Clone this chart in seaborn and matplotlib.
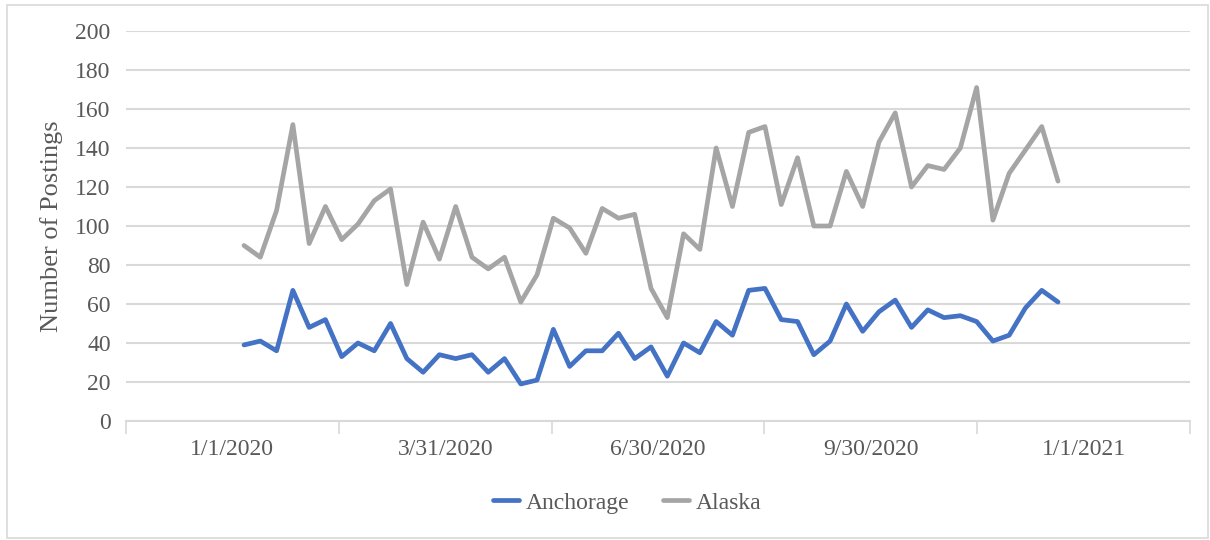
import datetime as dt

import matplotlib
matplotlib.use("Agg")
import matplotlib.dates as mdates
import matplotlib.pyplot as plt
import matplotlib.ticker as mticker
from matplotlib.patches import Rectangle
import numpy as np
import pandas as pd
import seaborn as sns

# Weekly job postings, 2020
weeks = pd.date_range("2020-01-06", periods=51, freq="7D")

anchorage = [39, 41, 36, 67, 48, 52, 33, 40, 36, 50,
             32, 25, 34, 32, 34, 25, 32, 19, 21, 47,
             28, 36, 36, 45, 32, 38, 23, 40, 35, 51,
             44, 67, 68, 52, 51, 34, 41, 60, 46, 56,
             62, 48, 57, 53, 54, 51, 41, 44, 58, 67, 61]

alaska = [90, 84, 108, 152, 91, 110, 93, 101, 113, 119,
          70, 102, 83, 110, 84, 78, 84, 61, 75, 104,
          99, 86, 109, 104, 106, 68, 53, 96, 88, 140,
          110, 148, 151, 111, 135, 100, 100, 128, 110, 143,
          158, 120, 131, 129, 140, 171, 103, 127, 139, 151, 123]

series_names = ["Anchorage", "Alaska"]
series_colors = ["#4472C4", "#A5A5A5"]
x_labels = ["1/1/2020", "3/31/2020", "6/30/2020", "9/30/2020", "1/1/2021"]
y_ticks = list(range(0, 201, 20))

df = pd.DataFrame({
    "week": np.concatenate([weeks, weeks]),
    "postings": anchorage + alaska,
    "series": [series_names[0]] * len(weeks) + [series_names[1]] * len(weeks),
})

sns.set_theme(style="white")
plt.rcParams["font.family"] = ["Liberation Serif", "DejaVu Serif"]

text_grey = "#595959"
grid_grey = "#D9D9D9"

fig = plt.figure(figsize=(12.1, 5.4), dpi=100)
ax = fig.add_axes([126 / 1210, 1 - 421 / 540, 1064 / 1210, 390 / 540])

sns.lineplot(data=df, x="week", y="postings", hue="series",
             hue_order=series_names, palette=series_colors,
             linewidth=3.4, ax=ax)

# quarter bins: tick marks at the bin edges, date labels at the centres
start = mdates.date2num(dt.datetime(2020, 1, 1))
step = 91.5
ax.set_xlim(start - step / 2, start + step * 4.5)
ax.xaxis.set_major_locator(mticker.FixedLocator([start - step / 2 + step * k for k in range(6)]))
ax.xaxis.set_major_formatter(mticker.NullFormatter())
ax.xaxis.set_minor_locator(mticker.FixedLocator([start + step * k for k in range(5)]))
ax.xaxis.set_minor_formatter(mticker.FixedFormatter(x_labels))
ax.tick_params(axis="x", which="major", length=9, width=1.2, color=grid_grey,
               direction="out", bottom=True)
ax.tick_params(axis="x", which="minor", length=0, pad=13, labelsize=17,
               labelcolor=text_grey)

ax.set_ylim(0, 200)
ax.set_yticks(y_ticks)
ax.tick_params(axis="y", length=0, pad=11, labelsize=17, labelcolor=text_grey)
ax.grid(axis="y", color=grid_grey, linewidth=1.5)
ax.grid(axis="x", visible=False)

for side in ["top", "right", "left"]:
    ax.spines[side].set_visible(False)
ax.spines["bottom"].set_color(grid_grey)
ax.spines["bottom"].set_linewidth(1.5)

ax.set_xlabel("")
ax.set_ylabel("Number of Postings", fontsize=19, color=text_grey, labelpad=9)

handles, labels = ax.get_legend_handles_labels()
ax.legend(handles, labels, loc="center", bbox_to_anchor=(627 / 1210, 1 - 503 / 540),
          bbox_transform=fig.transFigure, ncol=2, frameon=False, fontsize=17,
          labelcolor=text_grey, handlelength=1.1, handletextpad=0.3,
          columnspacing=1.4)

fig.patches.append(Rectangle((6.5 / 1210, 2 / 540), 1201 / 1210, 533 / 540,
                             transform=fig.transFigure, fill=False,
                             edgecolor=grid_grey, linewidth=1.2))

fig.savefig("out.png", dpi=100, facecolor="white")
